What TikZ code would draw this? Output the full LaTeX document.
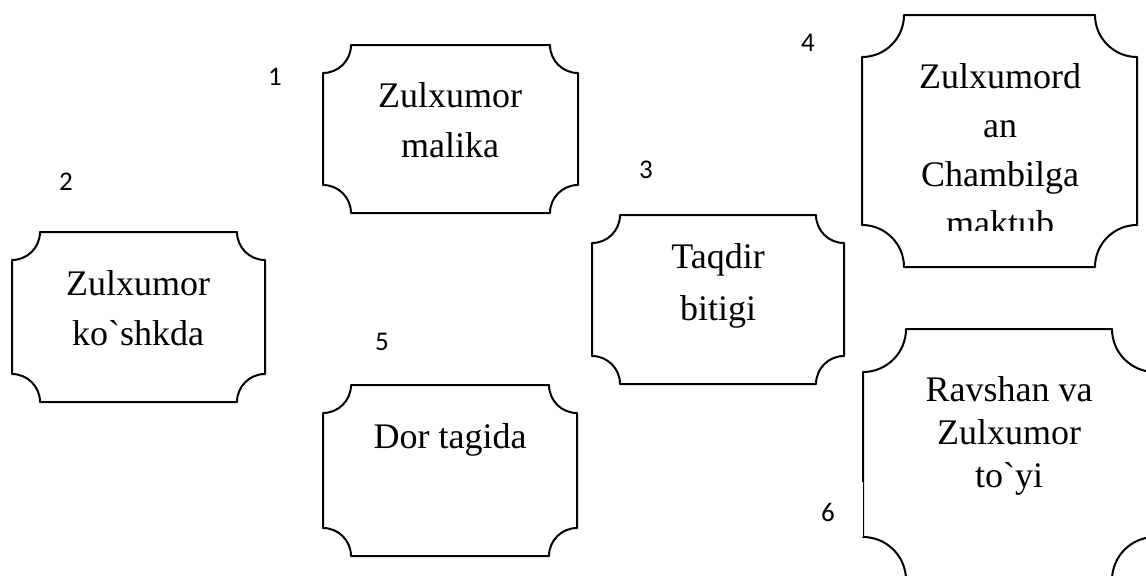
\documentclass[tikz,border=0pt]{standalone}
\usepackage{fontspec}
\setmainfont{Liberation Serif}[Ligatures=TeXOff]
\newfontfamily\numfont{Carlito}
\usetikzlibrary{calc}
\def\plaque[#1](#2,#3)(#4,#5)(#6){%
	\pgfmathsetmacro\plk{0.552*#6}
	\draw[#1] (#2+#6,#3) -- (#4-#6,#3)
		.. controls (#4-#6,#3+\plk) and (#4-\plk,#3+#6) .. (#4,#3+#6)
		-- (#4,#5-#6)
		.. controls (#4-\plk,#5-#6) and (#4-#6,#5-\plk) .. (#4-#6,#5)
		-- (#2+#6,#5)
		.. controls (#2+#6,#5-\plk) and (#2+\plk,#5-#6) .. (#2,#5-#6)
		-- (#2,#3+#6)
		.. controls (#2+\plk,#3+#6) and (#2+#6,#3+\plk) .. (#2+#6,#3)
		-- cycle;}
\tikzset{
	plaqueline/.style={line width=1pt, line join=round},
	boxtext/.style={anchor=base, align=center, inner sep=0pt, font=\fontsize{18}{25}\selectfont},
	numlabel/.style={inner sep=0pt, font=\numfont\fontsize{13.5}{16}\selectfont}
}

\begin{document}
\begin{tikzpicture}[x=0.5pt, y=-0.5pt]
		%%%%% START %%%%%
		\clip (0, 0) rectangle (1146, 575);
		
		% base = baseline of the last line
		\plaque[plaqueline](323, 45)(578, 213)(28)
		\node[boxtext] (malika) at (450, 157) {Zulxumor\\malika};
		\node[numlabel] (n1) at (275, 77) {1};
		
		\plaque[plaqueline](12, 232)(265, 402)(28)
		\node[boxtext] (koshk) at (138, 345) {Zulxumor\\ko`shkda};
		\node[numlabel] (n2) at (66, 182) {2};
		
		\plaque[plaqueline](592, 215)(844, 384)(28)
		\node[boxtext, font=\fontsize{18}{26}\selectfont] (taqdir) at (718, 320) {Taqdir\\bitigi};
		\node[numlabel] (n3) at (646, 170) {3};
		
		\plaque[plaqueline](862, 15)(1137, 267)(42)
		\begin{scope}
			\clip (862, 15) rectangle (1137, 230);
			\node[boxtext, font=\fontsize{18}{24.5}\selectfont] (maktub) at (1000, 235) {Zulxumord\\an\\Chambilga\\maktub};
		\end{scope}
		\node[numlabel] (n4) at (808, 43) {4};
		
		\plaque[plaqueline](323, 385)(577, 556)(28)
		\node[boxtext] (dor) at (450, 448) {Dor tagida};
		\node[numlabel] (n5) at (382, 342) {5};
		
		\plaque[plaqueline](863, 329)(1155, 580)(43)
		\draw[white, line width=1.4pt] (863, 482) -- (863, 537);
		\draw[line width=0.4pt] (863, 482) -- (863, 538);
		\node[boxtext, font=\fontsize{18}{21.5}\selectfont] (toy) at (1009, 487) {Ravshan va\\Zulxumor\\to`yi};
		\node[numlabel] (n6) at (828, 512) {6};
		%%%%% END %%%%%
	\end{tikzpicture}
\end{document}
